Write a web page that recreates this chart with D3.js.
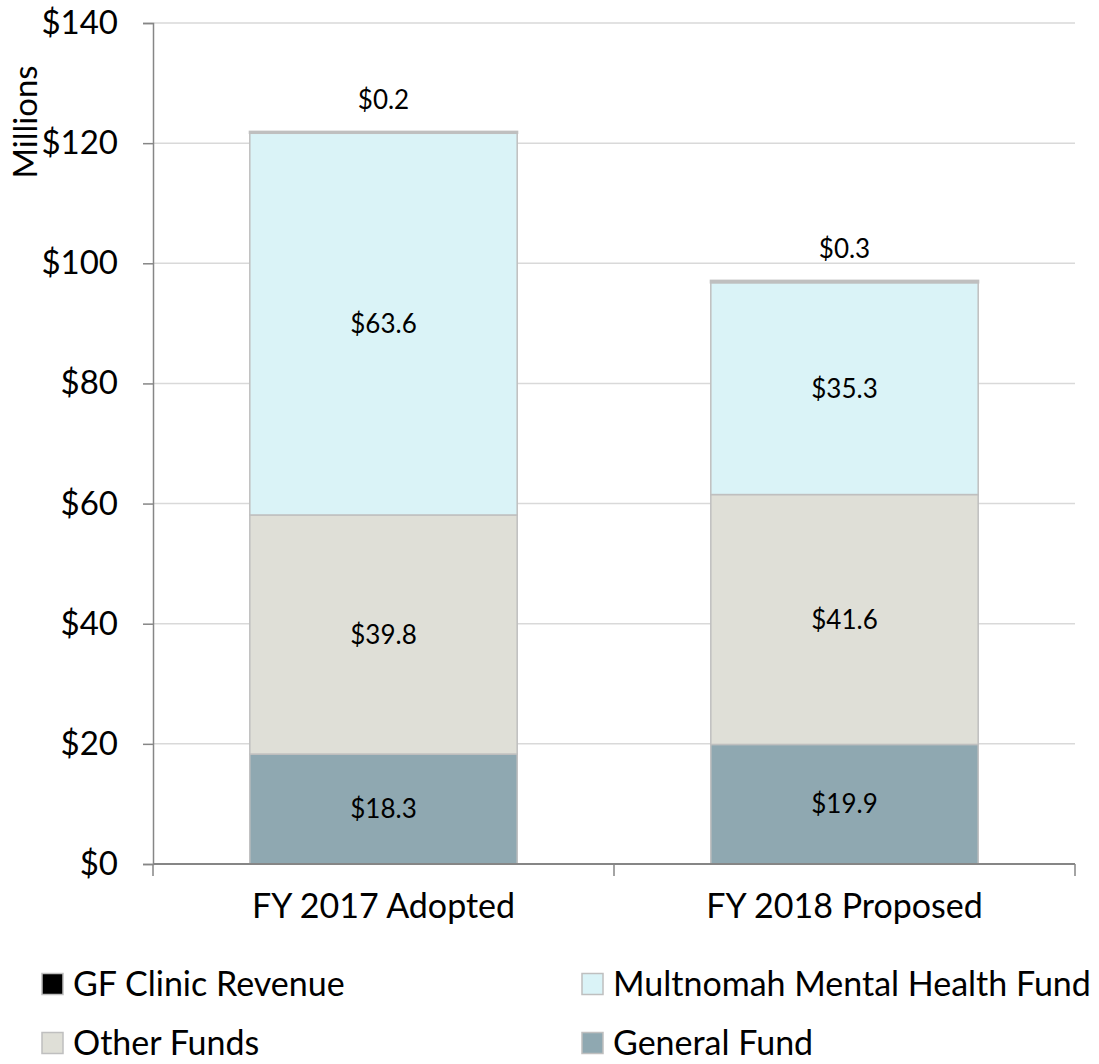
<!DOCTYPE html>
<html lang="en">
<head>
<meta charset="UTF-8">
<script src="https://cdn.jsdelivr.net/npm/d3@7"></script>
<title>Fund Sources</title>
<style>
    body { margin: 0; background: white; }
    svg text { font-family: Lato, 'Open Sans', sans-serif; fill: #000; }
</style>
</head>
<body>
<div id="chart"></div>
<script>
    // data (millions)
    const categories = ["FY 2017 Adopted", "FY 2018 Proposed"];
    const seriesNames = ["General Fund", "Other Funds", "Multnomah Mental Health Fund", "GF Clinic Revenue"];
    const generalFund = [18.3, 19.9];
    const otherFunds = [39.8, 41.6];
    const mentalHealthFund = [63.6, 35.3];
    const clinicRevenue = [0.2, 0.3];
    const yTicks = [0, 20, 40, 60, 80, 100, 120, 140];
    const legendOrder = ["GF Clinic Revenue", "Multnomah Mental Health Fund", "Other Funds", "General Fund"];

    const colors = {
        "General Fund": "#8fa8b1",
        "Other Funds": "#dfdfd7",
        "Multnomah Mental Health Fund": "#daf3f7",
        "GF Clinic Revenue": "#000000"
    };

    const width = 1099, height = 1064;
    const plot = { left: 153, right: 1075, top: 23, bottom: 864 };

    const rows = categories.map((c, i) => ({
        category: c,
        "General Fund": generalFund[i],
        "Other Funds": otherFunds[i],
        "Multnomah Mental Health Fund": mentalHealthFund[i],
        "GF Clinic Revenue": clinicRevenue[i]
    }));

    const svg = d3.select("#chart").append("svg")
        .attr("width", width)
        .attr("height", height);

    const x = d3.scaleBand().domain(categories).range([plot.left, plot.right]).padding(0);
    const y = d3.scaleLinear().domain([0, 140]).range([plot.bottom, plot.top]);
    const barW = x.bandwidth() * 0.58;
    const barOff = (x.bandwidth() - barW) / 2;

    // gridlines
    svg.append("g").selectAll("line")
        .data(yTicks.filter(d => d > 0))
        .enter().append("line")
        .attr("x1", plot.left).attr("x2", plot.right)
        .attr("y1", d => y(d)).attr("y2", d => y(d))
        .attr("stroke", "#d9d9d9").attr("stroke-width", 1.5);

    // stacked bars
    const stack = d3.stack().keys(seriesNames);
    const layers = stack(rows);

    svg.append("g").selectAll("g")
        .data(layers)
        .enter().append("g")
        .attr("fill", d => colors[d.key])
        .attr("stroke-width", d => d.key === "GF Clinic Revenue" ? 2.2 : 1.5)
        .selectAll("rect")
        .data(d => d)
        .enter().append("rect")
        .attr("x", d => x(d.data.category) + barOff)
        .attr("width", barW)
        .attr("y", d => y(d[1]))
        .attr("height", d => y(d[0]) - y(d[1]))
        .attr("stroke", "#bfbfbf");

    // data labels
    layers.forEach(layer => {
        layer.forEach(d => {
            const v = d[1] - d[0];
            const cx = x(d.data.category) + x.bandwidth() / 2;
            const top = layer.key === "GF Clinic Revenue";
            svg.append("text")
                .attr("x", cx)
                .attr("y", top ? y(d[1]) - 32 : y((d[0] + d[1]) / 2))
                .attr("dy", "0.35em")
                .attr("text-anchor", "middle")
                .attr("font-size", 26)
                .text("$" + v.toFixed(1));
        });
    });

    // y axis
    const yAxis = svg.append("g")
        .attr("transform", `translate(${plot.left},0)`)
        .call(d3.axisLeft(y).tickValues(yTicks).tickSize(10).tickPadding(25).tickFormat(d => "$" + d));
    yAxis.select(".domain").attr("stroke", "#868686").attr("stroke-width", 1.5);
    yAxis.selectAll(".tick line").attr("stroke", "#868686").attr("stroke-width", 1.5);
    yAxis.selectAll("text").attr("font-size", 33).attr("font-family", "Lato, sans-serif");

    // x axis
    const xAxis = svg.append("g")
        .attr("transform", `translate(0,${plot.bottom})`);
    xAxis.append("line")
        .attr("x1", plot.left).attr("x2", plot.right)
        .attr("stroke", "#868686").attr("stroke-width", 2);
    const boundaries = categories.map(c => x(c)).concat([plot.right]);
    xAxis.selectAll(".tk")
        .data(boundaries)
        .enter().append("line")
        .attr("class", "tk")
        .attr("x1", d => d).attr("x2", d => d)
        .attr("y1", 0).attr("y2", 12)
        .attr("stroke", "#868686").attr("stroke-width", 1.5);
    xAxis.selectAll(".cat")
        .data(categories)
        .enter().append("text")
        .attr("class", "cat")
        .attr("x", d => x(d) + x.bandwidth() / 2)
        .attr("y", 54)
        .attr("text-anchor", "middle")
        .attr("font-size", 34)
        .text(d => d);

    // axis title
    svg.append("text")
        .attr("transform", "translate(37,122) rotate(-90)")
        .attr("text-anchor", "middle")
        .attr("font-size", 33)
        .text("Millions");

    // legend
    const legend = svg.append("g");
    const legendPos = [
        { x: 42, y: 984 }, { x: 582, y: 984 },
        { x: 42, y: 1043 }, { x: 582, y: 1043 }
    ];
    legendOrder.forEach((name, i) => {
        const p = legendPos[i];
        legend.append("rect")
            .attr("x", p.x).attr("y", p.y - 10.5)
            .attr("width", 21).attr("height", 21)
            .attr("fill", colors[name])
            .attr("stroke", "#bfbfbf").attr("stroke-width", 1.5);
        legend.append("text")
            .attr("x", p.x + 31).attr("y", p.y)
            .attr("dy", "0.36em")
            .attr("font-size", 34)
            .text(name);
    });
</script>
</body>
</html>
